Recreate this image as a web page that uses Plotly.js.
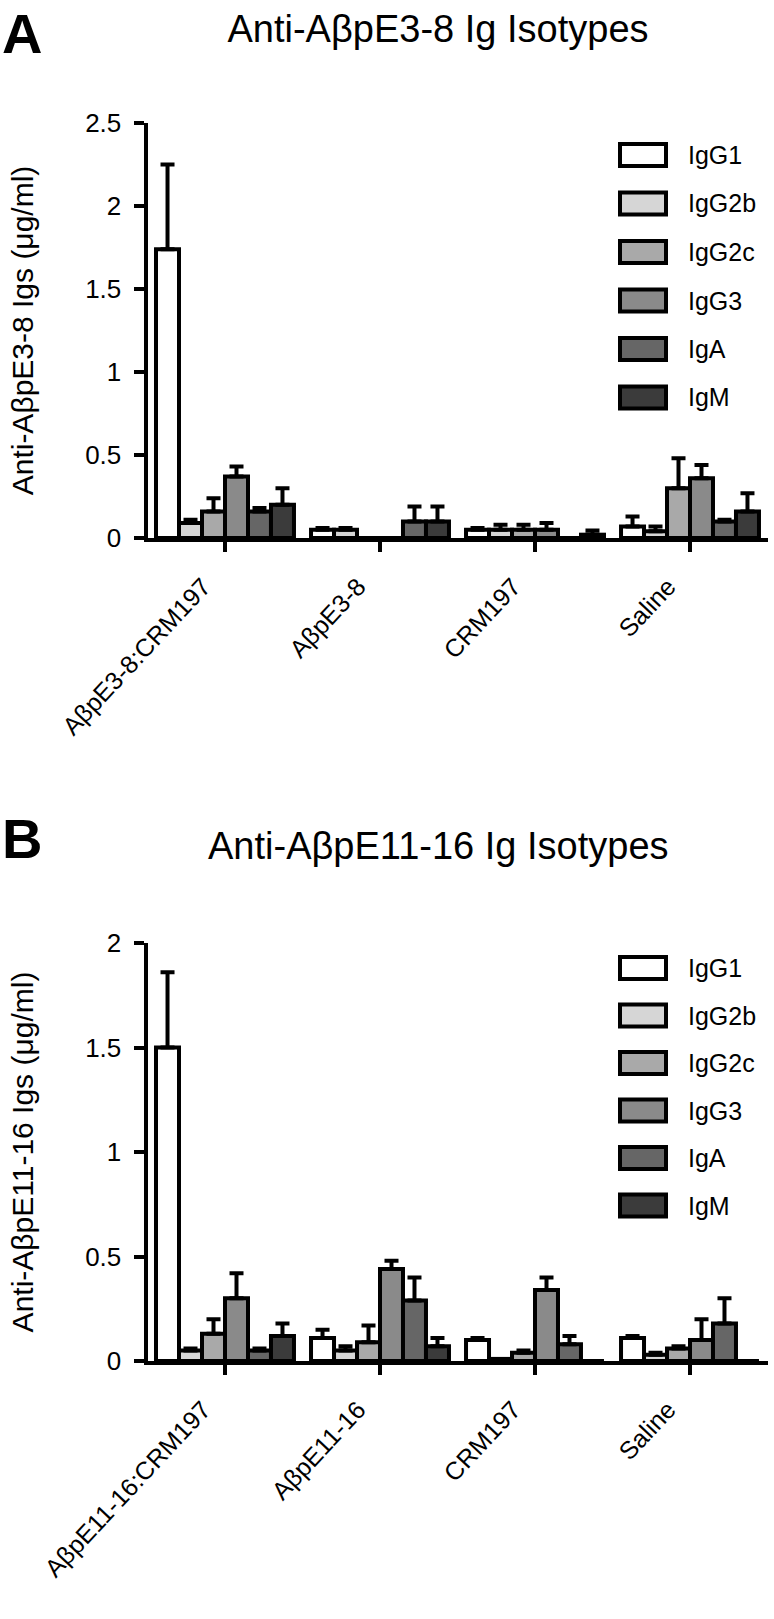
<!DOCTYPE html>
<html>
<head>
<meta charset="utf-8">
<script src="https://cdn.plot.ly/plotly-3.0.1.min.js"></script>
<style>html,body{margin:0;padding:0;background:#fff;}#chart{width:774px;height:1619px;}</style>
</head>
<body>
<div id="chart"></div>
<script>
// ---- data ----
const isotypes = ["IgG1", "IgG2b", "IgG2c", "IgG3", "IgA", "IgM"];
const isotypeColors = ["#ffffff", "#d6d6d6", "#a9a9a9", "#8a8a8a", "#666666", "#3b3b3b"];

const categoriesA = ["AβpE3-8:CRM197", "AβpE3-8", "CRM197", "Saline"];
const categoriesB = ["AβpE11-16:CRM197", "AβpE11-16", "CRM197", "Saline"];

// Panel A means / SEM (per isotype, over categoriesA)
const A_IgG1  = [1.74, 0.05, 0.05, 0.07];
const A_IgG2b = [0.09, 0.05, 0.05, 0.04];
const A_IgG2c = [0.16, 0.00, 0.05, 0.30];
const A_IgG3  = [0.37, 0.00, 0.05, 0.36];
const A_IgA   = [0.16, 0.10, 0.00, 0.10];
const A_IgM   = [0.20, 0.10, 0.02, 0.16];
const A_err_IgG1  = [0.51, 0.01, 0.01, 0.06];
const A_err_IgG2b = [0.02, 0.01, 0.03, 0.03];
const A_err_IgG2c = [0.08, 0.00, 0.03, 0.18];
const A_err_IgG3  = [0.06, 0.00, 0.04, 0.08];
const A_err_IgA   = [0.02, 0.09, 0.00, 0.01];
const A_err_IgM   = [0.10, 0.09, 0.025, 0.11];

// Panel B means / SEM (per isotype, over categoriesB)
const B_IgG1  = [1.50, 0.11, 0.10, 0.11];
const B_IgG2b = [0.05, 0.05, 0.01, 0.03];
const B_IgG2c = [0.13, 0.09, 0.04, 0.06];
const B_IgG3  = [0.30, 0.44, 0.34, 0.10];
const B_IgA   = [0.05, 0.29, 0.08, 0.18];
const B_IgM   = [0.12, 0.07, 0.00, 0.00];
const B_err_IgG1  = [0.36, 0.04, 0.01, 0.01];
const B_err_IgG2b = [0.01, 0.02, 0.00, 0.01];
const B_err_IgG2c = [0.07, 0.08, 0.01, 0.01];
const B_err_IgG3  = [0.12, 0.04, 0.06, 0.10];
const B_err_IgA   = [0.01, 0.11, 0.04, 0.12];
const B_err_IgM   = [0.06, 0.04, 0.00, 0.00];

const titleA = "Anti-AβpE3-8 Ig Isotypes";
const titleB = "Anti-AβpE11-16 Ig Isotypes";
const yTitleA = "Anti-AβpE3-8 Igs (μg/ml)";
const yTitleB = "Anti-AβpE11-16 Igs (μg/ml)";

const valsA = [A_IgG1, A_IgG2b, A_IgG2c, A_IgG3, A_IgA, A_IgM];
const errsA = [A_err_IgG1, A_err_IgG2b, A_err_IgG2c, A_err_IgG3, A_err_IgA, A_err_IgM];
const valsB = [B_IgG1, B_IgG2b, B_IgG2c, B_IgG3, B_IgA, B_IgM];
const errsB = [B_err_IgG1, B_err_IgG2b, B_err_IgG2c, B_err_IgG3, B_err_IgA, B_err_IgM];

// ---- layout helpers ----
const W = 774, H = 1619;
const px = x => x / W;
const py = y => 1 - y / H;
const FONT = "Liberation Sans, Arial, Helvetica, sans-serif";

function makeTraces(cats, vals, errs, xa, ya) {
  return isotypes.map((name, i) => ({
    type: "bar",
    name: name,
    x: cats,
    y: vals[i],
    xaxis: xa, yaxis: ya,
    marker: {color: isotypeColors[i], line: {color: "#000", width: 4}},
    error_y: {type: "data", array: errs[i], arrayminus: errs[i].map(() => 0), symmetric: false,
              color: "#000", thickness: 4, width: 7},
    showlegend: false,
    hoverinfo: "x+y+name"
  }));
}

const traces = makeTraces(categoriesA, valsA, errsA, "x", "y")
  .concat(makeTraces(categoriesB, valsB, errsB, "x2", "y2"));

const xDomain = [px(147.5), px(767.5)];

function xAxis(anchor) {
  return {
    domain: xDomain, anchor: anchor, type: "category", range: [-0.5, 3.5],
    showline: true, linewidth: 4, linecolor: "#000", mirror: false,
    ticks: "outside", ticklen: 10, tickwidth: 4, tickcolor: "#000",
    tickangle: -47, ticklabelshift: -22, ticklabelstandoff: 10,
    tickfont: {family: FONT, size: 25, color: "#000"},
    showgrid: false, zeroline: false, automargin: false, fixedrange: true
  };
}
function yAxis(anchor, domain, range, title) {
  return {
    domain: domain, anchor: anchor, range: range,
    showline: true, linewidth: 4, linecolor: "#000",
    ticks: "outside", ticklen: 10, tickwidth: 4, tickcolor: "#000", dtick: 0.5,
    ticklabelstandoff: 7,
    tickfont: {family: FONT, size: 26, color: "#000"},
    showgrid: false, zeroline: false, automargin: false, fixedrange: true,
    title: {text: title, font: {family: FONT, size: 30, color: "#000"}, standoff: 44}
  };
}

const shapes = [];
const annotations = [];
function addLegend(firstY, step) {
  isotypes.forEach((name, i) => {
    const c = firstY + i * step;
    shapes.push({type: "rect", xref: "paper", yref: "paper",
      x0: px(620), x1: px(666), y0: py(c + 11), y1: py(c - 11),
      fillcolor: isotypeColors[i], line: {color: "#000", width: 4}});
    annotations.push({xref: "paper", yref: "paper", x: px(686), y: py(c),
      xanchor: "left", yanchor: "middle", showarrow: false, text: name,
      font: {family: FONT, size: 25, color: "#000"}});
  });
}
addLegend(155, 48.5);
addLegend(968, 47.5);

annotations.push({xref: "paper", yref: "paper", x: px(0), y: py(0), xanchor: "left", yanchor: "top",
  showarrow: false, text: "<b>A</b>", font: {family: FONT, size: 56, color: "#000"}});
annotations.push({xref: "paper", yref: "paper", x: px(0), y: py(805), xanchor: "left", yanchor: "top",
  showarrow: false, text: "<b>B</b>", font: {family: FONT, size: 56, color: "#000"}});
annotations.push({xref: "paper", yref: "paper", x: px(438), y: py(846), xanchor: "center", yanchor: "middle",
  showarrow: false, text: titleB, font: {family: FONT, size: 38, color: "#000"}});

const layout = {
  width: W, height: H,
  margin: {l: 0, r: 0, t: 0, b: 0},
  paper_bgcolor: "#fff", plot_bgcolor: "#fff",
  barmode: "group", bargap: 0.11, bargroupgap: 0,
  title: {text: titleA, x: px(438), xref: "paper", xanchor: "center", y: py(29), yref: "paper", yanchor: "middle",
          font: {family: FONT, size: 38, color: "#000"}},
  xaxis: xAxis("y"),
  yaxis: yAxis("x", [py(538), py(123)], [0, 2.5], yTitleA),
  xaxis2: xAxis("y2"),
  yaxis2: yAxis("x2", [py(1361), py(943)], [0, 2], yTitleB),
  shapes: shapes,
  annotations: annotations,
  showlegend: false,
  font: {family: FONT, color: "#000"}
};

Plotly.newPlot("chart", traces, layout, {staticPlot: true, displayModeBar: false});
</script>
</body>
</html>
